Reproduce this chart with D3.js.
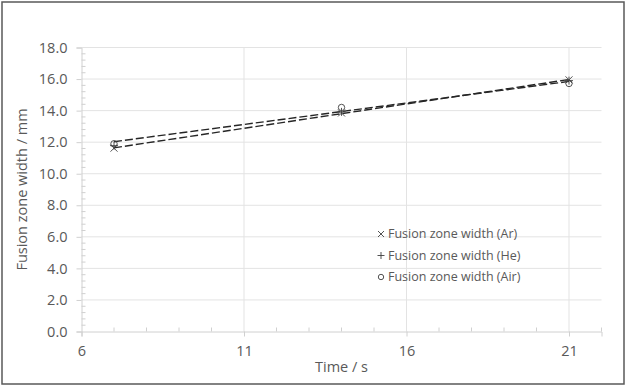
<!DOCTYPE html>
<html>
<head>
<meta charset="utf-8">
<script src="https://cdn.jsdelivr.net/npm/d3@7"></script>
<style>
  body { margin: 0; background: #fff; }
  svg text { font-family: "Open Sans", sans-serif; fill: #595959; }
</style>
</head>
<body>
<div id="chart"></div>
<script>
// Chart data
const times = [7, 14, 21];
const widthAr = [11.62, 13.85, 15.95];
const widthHe = [11.78, 13.92, 15.9];
const widthAir = [11.9, 14.2, 15.72];
const xTicks = [6, 11, 16, 21];
const yTicks = [0, 2, 4, 6, 8, 10, 12, 14, 16, 18];

const series = [
    { name: 'Fusion zone width (Ar)', values: widthAr, symbol: 'x', trend: true },
    { name: 'Fusion zone width (He)', values: widthHe, symbol: 'plus', trend: false },
    { name: 'Fusion zone width (Air)', values: widthAir, symbol: 'circle', trend: true }
];

const width = 625, height = 385;
const margin = { top: 47.5, right: 23.5, bottom: 53.5, left: 81.5 };

const svg = d3.select('#chart').append('svg')
    .attr('width', width)
    .attr('height', height);

// outer frame
svg.append('rect')
    .attr('x', 2).attr('y', 2)
    .attr('width', width - 3).attr('height', height - 3)
    .attr('fill', 'none')
    .attr('stroke', '#595959')
    .attr('stroke-width', 1.5);

const scaleX = d3.scaleLinear([6, 22], [margin.left, width - margin.right]);
const scaleY = d3.scaleLinear([0, 18], [height - margin.bottom, margin.top]);

// gridlines
svg.append('g').selectAll('line')
    .data(yTicks.filter(d => d > 0))
    .join('line')
    .attr('x1', margin.left).attr('x2', width - margin.right)
    .attr('y1', d => scaleY(d)).attr('y2', d => scaleY(d))
    .attr('stroke', '#e3e3e3');

svg.append('g').selectAll('line')
    .data(xTicks.filter(d => d > 6))
    .join('line')
    .attr('x1', d => scaleX(d)).attr('x2', d => scaleX(d))
    .attr('y1', margin.top).attr('y2', height - margin.bottom)
    .attr('stroke', '#e3e3e3');

// minor ticks (inside)
const minorX = d3.range(7, 22.01, 1).filter(d => !xTicks.includes(d));
const minorY = d3.range(0.4, 18, 0.4).filter(d => Math.abs(d / 2 - Math.round(d / 2)) > 0.01);

const axisX = svg.append('g')
    .attr('transform', `translate(0,${scaleY(0)})`)
    .call(d3.axisBottom(scaleX).tickValues(xTicks).tickSize(5).tickPadding(9).tickFormat(d3.format('d')));
axisX.append('g').selectAll('line')
    .data(minorX).join('line')
    .attr('x1', d => scaleX(d)).attr('x2', d => scaleX(d))
    .attr('y1', 0).attr('y2', -4);

const axisY = svg.append('g')
    .attr('transform', `translate(${scaleX(6)},0)`)
    .call(d3.axisLeft(scaleY).tickValues(yTicks).tickSize(5).tickPadding(9).tickFormat(d3.format('.1f')));
axisY.append('g').selectAll('line')
    .data(minorY).join('line')
    .attr('x1', 0).attr('x2', 4)
    .attr('y1', d => scaleY(d)).attr('y2', d => scaleY(d));

[axisX, axisY].forEach(ax => {
    ax.select('.domain').attr('stroke', '#d0d0d0');
    ax.selectAll('line').attr('stroke', '#d0d0d0');
    ax.selectAll('text')
        .style('font-size', '14.5px')
        .attr('fill', '#595959');
});

// axis labels
svg.append('text')
    .attr('x', (scaleX(6) + scaleX(22)) / 2)
    .attr('y', 372)
    .attr('text-anchor', 'middle')
    .style('font-size', '14.5px')
    .text('Time / s');

svg.append('text')
    .attr('transform', `translate(27,${(scaleY(0) + scaleY(18)) / 2}) rotate(-90)`)
    .attr('text-anchor', 'middle')
    .style('font-size', '14.5px')
    .text('Fusion zone width / mm');

// linear trendlines
const trendline = (xs, ys) => {
    const mx = d3.mean(xs), my = d3.mean(ys);
    const slope = d3.sum(xs, (x, i) => (x - mx) * (ys[i] - my)) / d3.sum(xs, x => (x - mx) ** 2);
    const x0 = d3.min(xs), x1 = d3.max(xs);
    return [[x0, my + slope * (x0 - mx)], [x1, my + slope * (x1 - mx)]];
};

const line = d3.line().x(d => scaleX(d[0])).y(d => scaleY(d[1]));
svg.append('g').selectAll('path')
    .data(series.filter(s => s.trend))
    .join('path')
    .attr('d', s => line(trendline(times, s.values)))
    .attr('fill', 'none')
    .attr('stroke', '#262626')
    .attr('stroke-width', 1.4)
    .attr('stroke-dasharray', '8,3');

// marker drawing
function drawMarker(g, symbol, size) {
    if (symbol === 'x') {
        g.append('path').attr('d', `M${-size},${-size}L${size},${size}M${-size},${size}L${size},${-size}`);
    } else if (symbol === 'plus') {
        g.append('path').attr('d', `M${-size - 0.5},0L${size + 0.5},0M0,${-size - 0.5}L0,${size + 0.5}`);
    } else {
        g.append('circle').attr('r', size - 0.3).attr('fill', 'none');
    }
    g.selectAll('path, circle')
        .attr('stroke', '#404040')
        .attr('stroke-width', 0.9)
        .attr('fill', 'none');
}

series.forEach(s => {
    times.forEach((t, i) => {
        const g = svg.append('g')
            .attr('transform', `translate(${scaleX(t)},${scaleY(s.values[i])})`);
        drawMarker(g, s.symbol, 3.5);
    });
});

// legend
const legend = svg.append('g').attr('transform', 'translate(381,234)');
series.forEach((s, i) => {
    const row = legend.append('g').attr('transform', `translate(0,${i * 21.5})`);
    drawMarker(row.append('g'), s.symbol, 3);
    row.append('text')
        .attr('x', 7)
        .attr('y', 0)
        .attr('dy', '0.35em')
        .style('font-size', '12.5px')
        .text(s.name);
});
</script>
</body>
</html>
